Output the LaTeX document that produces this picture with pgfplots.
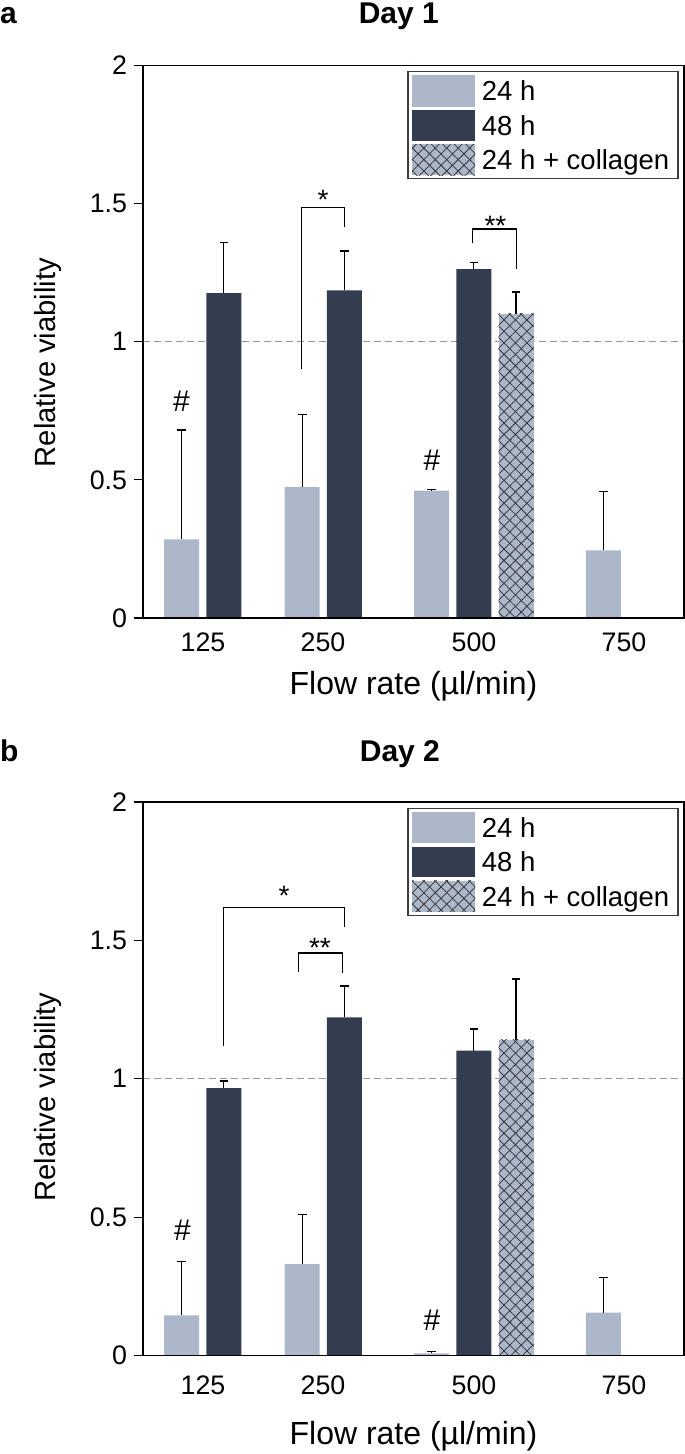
\documentclass[border=0pt]{standalone}
\usepackage{pgfplots}
\pgfplotsset{compat=1.18}
\usetikzlibrary{patterns.meta}
\usepackage{fontspec}
\setmainfont{Liberation Sans}
\definecolor{lightc}{RGB}{172,183,201}
\definecolor{darkc}{RGB}{51,61,79}
\definecolor{hatchc}{RGB}{50,50,55}
\definecolor{refc}{RGB}{150,150,150}
\definecolor{legc}{RGB}{60,60,60}
\newcommand{\fs}[1]{\fontsize{#1}{#1}\selectfont}
\tikzset{
  hatchfill/.style={fill=lightc,
    postaction={pattern={Lines[angle=45,distance=8.1pt,line width=0.75pt]}, pattern color=hatchc},
    postaction={pattern={Lines[angle=-45,distance=8.1pt,line width=0.75pt]}, pattern color=hatchc}},
  brk/.style={black, line width=1.3pt},
}
\pgfplotsset{
  myaxis/.style={
    scale only axis, anchor=south west,
    xmin=143, xmax=684, ymin=0, ymax=2,
    xtick={203,323,474,624}, xticklabels={125,250,500,750},
    ytick={0,0.5,1,1.5,2}, yticklabels={0,0.5,1,1.5,2},
    tick pos=left, tick align=outside, major tick length=9.4pt,
    xtick style={draw=none},
    ytick style={black, line width=1.2pt},
    axis line style={black, line width=1.6pt},
    tick label style={font=\fs{26.8}},
    yticklabel style={inner sep=0pt, xshift=-6.3pt},
    xticklabel style={inner sep=0pt},
    ylabel={Relative viability}, xlabel={Flow rate (µl/min)},
    ylabel style={font=\fs{29.2}, anchor=center},
    xlabel style={font=\fs{32}, at={(axis description cs:0.5,0)}, anchor=center},
    clip=false, axis on top,
  },
  barbase/.style={ybar, bar width=35, bar shift=0pt, draw=none,
    error bars/y dir=plus, error bars/y explicit,
    error bars/error bar style={draw=black, line width=1.3pt, solid},
    error bars/error mark options={draw=black, rotate=90, mark size=4.3pt, line width=1.3pt}},
}
\newcommand{\mylegend}[1]{%
  \draw[draw=legc, line width=1.3pt, fill=white] (408pt,#1pt) rectangle (678pt,#1pt-107pt);
  \fill[lightc] (412pt,#1pt-3.4pt) rectangle (475pt,#1pt-35pt);
  \fill[darkc] (412pt,#1pt-38.4pt) rectangle (475pt,#1pt-69pt);
  \path[hatchfill] (412pt,#1pt-72.4pt) rectangle (475pt,#1pt-103.7pt);
  \node[anchor=base west, inner sep=0pt, font=\fs{27.5}] at (481.7pt,#1pt-29.05pt) {24 h};
  \node[anchor=base west, inner sep=0pt, font=\fs{27.5}] at (481.7pt,#1pt-63.55pt) {48 h};
  \node[anchor=base west, inner sep=0pt, font=\fs{27.5}] at (481.7pt,#1pt-97.9pt) {24 h + collagen};
}
\begin{document}
\begin{tikzpicture}
\useasboundingbox (0pt,0pt) rectangle (685pt,1454pt);
% ---------------- panel a ----------------
\node[anchor=base west, inner sep=0pt, font=\fs{30}\bfseries] at (0pt,1430.7pt) {a};
\node[anchor=base, inner sep=0pt, font=\fs{30}\bfseries] at (398.8pt,1430.7pt) {Day 1};
\begin{axis}[myaxis, at={(143pt,836pt)}, width=541pt, height=552.5pt,
  xticklabel style={yshift=-4.9pt}, xlabel style={yshift=-68.7pt},
  ylabel style={at={(axis description cs:-0.175,0.4624)}}]
\addplot[refc, line width=1pt, dash pattern=on 7pt off 4pt] coordinates {(143,1) (684,1)};
% 24 h
\addplot[barbase, fill=lightc] coordinates {
  (181.7,0.285) +- (0,0.395)
  (302.2,0.475) +- (0,0.262)
  (431.7,0.461) +- (0,0.003)
  (603.3,0.245) +- (0,0.213)};
% 48 h
\addplot[barbase, fill=darkc] coordinates {
  (223.8,1.176) +- (0,0.184)
  (344.4,1.186) +- (0,0.143)
  (473.8,1.263) +- (0,0.025)};
% 24 h + collagen
\addplot[barbase, hatchfill] coordinates {
  (516.0,1.101) +- (0,0.079)};
\draw[brk] (axis cs:301.2,0.900) -- (axis cs:301.2,1.486) -- (axis cs:344.5,1.486) -- (axis cs:344.5,1.416);
\node[font=\fs{28}, inner sep=0pt] at (axis cs:323,1.515) {*};
\draw[brk] (axis cs:472.5,1.356) -- (axis cs:472.5,1.408) -- (axis cs:516.2,1.408) -- (axis cs:516.2,1.262);
\node[font=\fs{28}, inner sep=0pt] at (axis cs:495.5,1.421) {**};
\node[font=\fs{30}, inner sep=0pt] at (axis cs:181.5,0.786) {\#};
\node[font=\fs{30}, inner sep=0pt] at (axis cs:432,0.572) {\#};
\end{axis}
\mylegend{1382.3}
% ---------------- panel b ----------------
\node[anchor=base west, inner sep=0pt, font=\fs{30}\bfseries] at (0pt,692.3pt) {b};
\node[anchor=base, inner sep=0pt, font=\fs{30}\bfseries] at (399.9pt,692.3pt) {Day 2};
\begin{axis}[myaxis, at={(143pt,98.5pt)}, width=541pt, height=553.5pt,
  xticklabel style={yshift=-10.5pt}, xlabel style={yshift=-81pt},
  ylabel style={at={(axis description cs:-0.175,0.467)}}]
\addplot[refc, line width=1pt, dash pattern=on 7pt off 4pt] coordinates {(143,1) (684,1)};
% 24 h
\addplot[barbase, fill=lightc] coordinates {
  (181.7,0.145) +- (0,0.195)
  (302.2,0.330) +- (0,0.179)
  (431.7,0.008) +- (0,0.007)
  (603.3,0.155) +- (0,0.126)};
% 48 h
\addplot[barbase, fill=darkc] coordinates {
  (223.8,0.966) +- (0,0.026)
  (344.4,1.222) +- (0,0.113)
  (473.8,1.102) +- (0,0.078)};
% 24 h + collagen
\addplot[barbase, hatchfill] coordinates {
  (516.0,1.141) +- (0,0.219)};
\draw[brk] (axis cs:223.3,1.120) -- (axis cs:223.3,1.620) -- (axis cs:344.5,1.620) -- (axis cs:344.5,1.548);
\node[font=\fs{28}, inner sep=0pt] at (axis cs:284,1.660) {*};
\draw[brk] (axis cs:298.4,1.387) -- (axis cs:298.4,1.454) -- (axis cs:342.5,1.454) -- (axis cs:342.5,1.381);
\node[font=\fs{28}, inner sep=0pt] at (axis cs:320,1.474) {**};
\node[font=\fs{30}, inner sep=0pt] at (axis cs:182.5,0.454) {\#};
\node[font=\fs{30}, inner sep=0pt] at (axis cs:432,0.126) {\#};
\end{axis}
\mylegend{645.7}
\end{tikzpicture}
\end{document}
